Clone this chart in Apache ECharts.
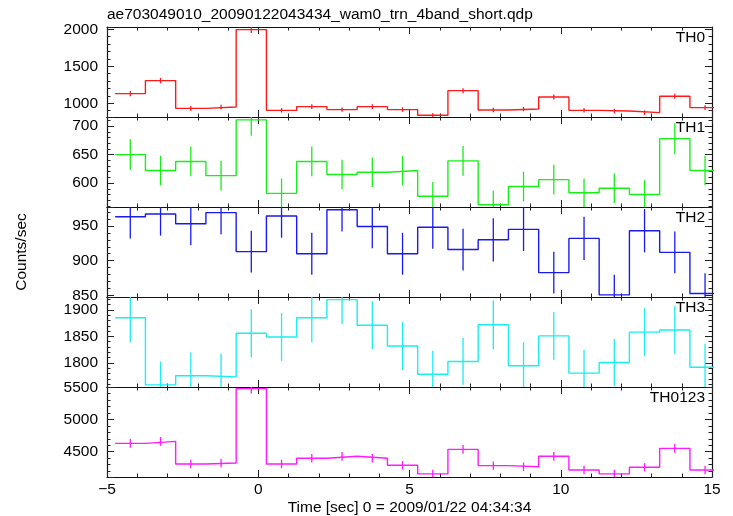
<!DOCTYPE html>
<html><head><meta charset="utf-8">
<script src="https://cdn.jsdelivr.net/npm/echarts@6/dist/echarts.min.js"></script>
<style>html,body{margin:0;padding:0;background:#fff}#c{width:733px;height:516px}</style>
</head><body><div id="c"></div>
<script>
const titleText = 'ae703049010_20090122043434_wam0_trn_4band_short.qdp';
const xTitle = 'Time [sec] 0 = 2009/01/22 04:34:34';
const yTitle = 'Counts/sec';
const panelNames = ['TH0', 'TH1', 'TH2', 'TH3', 'TH0123'];
const panelColors = ['#ff1a1a', '#1aee1a', '#1a1aee', '#1aeeee', '#ff1aff'];

const times = [-4.23, -3.23, -2.23, -1.23, -0.23, 0.77, 1.77, 2.77, 3.77, 4.77,
               5.77, 6.77, 7.77, 8.77, 9.77, 10.77, 11.77, 12.77, 13.77, 14.77];
const binWidth = 1.0;

const th0    = [1131, 1307, 932, 950, 1996, 905, 955, 915, 955, 915, 838, 1171, 910, 923, 1085, 905, 896, 874, 1095, 942];
const th0Err = [34, 36, 31, 31, 45, 30, 31, 30, 31, 30, 29, 34, 30, 30, 33, 30, 30, 30, 33, 31];
const th1    = [650, 622, 638, 613, 711, 582, 638, 615, 619, 622, 577, 639, 562, 594, 606, 583, 591, 580, 678, 622];
const th1Err = [27, 26, 26, 26, 28, 26, 26, 26, 26, 26, 25, 26, 25, 26, 26, 25, 26, 25, 27, 26];
const th2    = [963, 967, 953, 969, 913, 964, 910, 973, 949, 910, 948, 916, 930, 945, 883, 932, 851, 943, 912, 853];
const th2Err = [31, 31, 31, 31, 30, 31, 30, 31, 31, 30, 31, 30, 31, 31, 30, 31, 29, 31, 30, 29];
const th3    = [1885, 1759, 1776, 1774, 1856, 1849, 1885, 1919, 1871, 1832, 1779, 1803, 1872, 1795, 1851, 1781, 1801, 1858, 1862, 1792];
const th3Err = [46, 44, 44, 44, 45, 45, 46, 46, 45, 45, 44, 44, 46, 44, 45, 44, 44, 45, 45, 44];
const th0123    = [4629, 4660, 4309, 4325, 5479, 4309, 4397, 4428, 4397, 4289, 4155, 4536, 4283, 4267, 4428, 4216, 4155, 4258, 4552, 4216];
const th0123Err = [68, 68, 66, 66, 74, 66, 66, 67, 66, 65, 64, 67, 65, 65, 67, 65, 64, 65, 67, 65];

const yMins  = [815, 558, 848, 1755, 4107];
const yMaxs  = [2031, 716, 977, 1924, 5504];
const yMajor = [500, 50, 50, 50, 500];
const xMin = -5, xMax = 15, xMajor = 5;

const values = [th0, th1, th2, th3, th0123];
const errors = [th0Err, th1Err, th2Err, th3Err, th0123Err];

const FONT = 'Liberation Sans, Arial, Helvetica, sans-serif';
const FS = 15.5;
const gridLeft = 107, gridWidth = 605, gridTop = 27, gridH = 90;

const grids = [], xAxes = [], yAxes = [], series = [], graphics = [];
const axisLineStyle = { color: '#111', width: 1.2 };
const tickStyle = { color: '#222', width: 1 };

for (let i = 0; i < 5; i++) {
  grids.push({ left: gridLeft, width: gridWidth, top: gridTop + gridH * i, height: gridH, containLabel: false });
  const isBottom = i === 4;
  ['bottom', 'top'].forEach((pos, k) => {
    xAxes.push({
      type: 'value', gridIndex: i, position: pos, min: xMin, max: xMax, interval: xMajor,
      axisLine: { show: true, onZero: false, lineStyle: axisLineStyle },
      axisTick: { show: true, inside: true, length: 7, lineStyle: tickStyle },
      minorTick: { show: true, splitNumber: 5, length: 3.5, lineStyle: tickStyle },
      splitLine: { show: false }, minorSplitLine: { show: false },
      axisLabel: {
        show: isBottom && k === 0, margin: 5, color: '#000', fontSize: FS, fontFamily: FONT,
        formatter: v => String(v).replace('-', '\u2212')
      }
    });
  });
  ['left', 'right'].forEach((pos, k) => {
    yAxes.push({
      type: 'value', gridIndex: i, position: pos, min: yMins[i], max: yMaxs[i], splitNumber: 3,
      axisLine: { show: true, onZero: false, lineStyle: axisLineStyle },
      axisTick: { show: true, inside: true, length: 7, lineStyle: tickStyle },
      minorTick: { show: true, splitNumber: 5, length: 3.5, lineStyle: tickStyle },
      splitLine: { show: false }, minorSplitLine: { show: false },
      axisLabel: {
        show: k === 0, margin: 9, color: '#000', fontSize: FS, fontFamily: FONT,
        formatter: v => (Math.abs(v % yMajor[i]) < 1e-6 ? String(v) : '')
      }
    });
  });

  const stepData = [];
  times.forEach((t, j) => {
    stepData.push([t - binWidth / 2, values[i][j]]);
    stepData.push([t + binWidth / 2, values[i][j]]);
  });
  series.push({
    type: 'line', xAxisIndex: 2 * i, yAxisIndex: 2 * i, data: stepData,
    symbol: 'none', clip: true, animation: false,
    lineStyle: { color: panelColors[i], width: 1.4 }
  });
  const color = panelColors[i];
  series.push({
    type: 'custom', xAxisIndex: 2 * i, yAxisIndex: 2 * i, clip: true, animation: false,
    data: times.map((t, j) => [t, values[i][j], errors[i][j]]),
    renderItem: (params, api) => {
      const x = api.value(0), y = api.value(1), e = api.value(2);
      const p1 = api.coord([x, y - e]);
      const p2 = api.coord([x, y + e]);
      return { type: 'line', shape: { x1: p1[0], y1: p1[1], x2: p2[0], y2: p2[1] },
               style: { stroke: color, lineWidth: 1.3 } };
    }
  });

  graphics.push({
    type: 'text', x: gridLeft + gridWidth - 7, y: gridTop + gridH * i + 11,
    style: { text: panelNames[i], align: 'right', verticalAlign: 'middle', fontSize: FS, fontFamily: FONT, fill: '#000' }
  });
}

graphics.push({
  type: 'text', x: gridLeft, y: 15,
  style: { text: titleText, align: 'left', verticalAlign: 'middle', fontSize: FS, fontFamily: FONT, fill: '#000' }
});
graphics.push({
  type: 'text', x: gridLeft + gridWidth / 2, y: 508,
  style: { text: xTitle, align: 'center', verticalAlign: 'middle', fontSize: FS, fontFamily: FONT, fill: '#000' }
});
graphics.push({
  type: 'text', x: 22, y: 252, rotation: Math.PI / 2,
  style: { text: yTitle, align: 'center', verticalAlign: 'middle', fontSize: FS, fontFamily: FONT, fill: '#000' }
});

const chart = echarts.init(document.getElementById('c'), null, { renderer: 'canvas' });
chart.setOption({
  animation: false,
  backgroundColor: '#fff',
  grid: grids, xAxis: xAxes, yAxis: yAxes, series: series, graphic: graphics
});
</script></body></html>
